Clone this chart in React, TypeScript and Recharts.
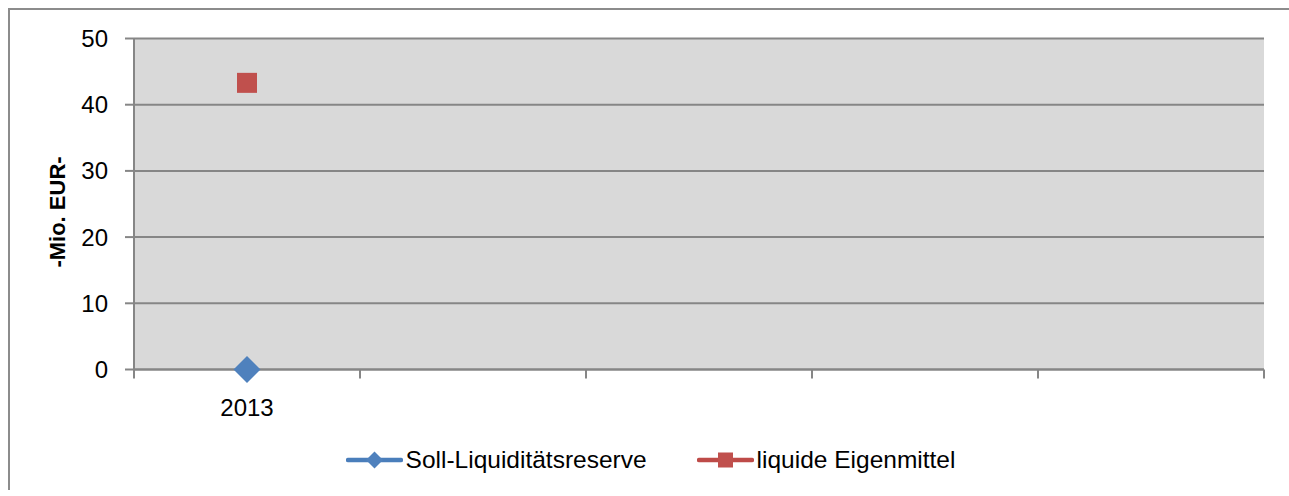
import { LineChart, Line, XAxis, YAxis, CartesianGrid, Legend } from 'recharts';

const categories = ['2013', '', '', '', ''];
const sollLiquiditaetsreserve: (number | null)[] = [0, null, null, null, null];
const liquideEigenmittel: (number | null)[] = [43.3, null, null, null, null];
const yTicks = [0, 10, 20, 30, 40, 50];
const xBoundaries = [0, 1, 2, 3, 4, 5];

const seriesNames = { soll: 'Soll-Liquiditätsreserve', liquide: 'liquide Eigenmittel' };

const data = categories.map((category, i) => ({
  x: i + 0.5,
  category,
  soll: sollLiquiditaetsreserve[i],
  liquide: liquideEigenmittel[i],
}));

const CHART_W = 1279;
const CHART_H = 478;
const Y_AXIS_W = 124;
const MARGIN = { top: 28.5, right: 25, bottom: 0, left: 0 };
const BAND = (CHART_W - Y_AXIS_W - MARGIN.right) / categories.length;

const FONT = '"Liberation Sans", Arial, sans-serif';
const AXIS_GRAY = '#868686';
const BLUE = '#4f81bd';
const BLUE_LINE = '#4a7ebb';
const RED = '#c0504d';
const RED_LINE = '#be4b48';

function Diamond({ cx, cy, r, fill }: { cx: number; cy: number; r: number; fill: string }) {
  return <polygon points={`${cx},${cy - r} ${cx + r},${cy} ${cx},${cy + r} ${cx - r},${cy}`} fill={fill} />;
}

const sollDot = (props: any) => {
  const { cx, cy, value } = props;
  if (value == null || cy == null) return <g key={props.index} />;
  return (
    <g key={props.index}>
      <Diamond cx={cx} cy={cy} r={13.5} fill={BLUE} />
    </g>
  );
};

const liquideDot = (props: any) => {
  const { cx, cy, value } = props;
  if (value == null || cy == null) return <g key={props.index} />;
  return <rect key={props.index} x={cx - 10} y={cy - 10} width={20} height={20} fill={RED} />;
};

const XTick = (props: any) => {
  const { x, y, payload } = props;
  const label = categories[payload.value];
  if (!label) return <g />;
  return (
    <text x={x + BAND / 2} y={y + 35} textAnchor="middle" fontSize={24} fontFamily={FONT} fill="#000">
      {label}
    </text>
  );
};

const YLabel = (props: any) => {
  const vb = props.viewBox || { x: 0, y: 0, height: 0 };
  const cx = 47;
  const cy = vb.y + vb.height / 2 + 8;
  return (
    <text
      x={cx}
      y={cy}
      transform={`rotate(-90 ${cx} ${cy})`}
      textAnchor="middle"
      dominantBaseline="central"
      fontSize={22}
      fontWeight="bold"
      fontFamily={FONT}
      fill="#000"
    >
      -Mio. EUR-
    </text>
  );
};

function LegendIcon({ color, line, marker }: { color: string; line: string; marker: 'diamond' | 'square' }) {
  return (
    <svg width={57} height={24} style={{ display: 'block' }}>
      <line x1={2} y1={12} x2={55} y2={12} stroke={line} strokeWidth={4.5} strokeLinecap="round" />
      {marker === 'diamond' ? (
        <Diamond cx={28.5} cy={12} r={8.5} fill={color} />
      ) : (
        <rect x={21} y={4.5} width={15} height={15} fill={color} />
      )}
    </svg>
  );
}

const LegendContent = () => (
  <div
    style={{
      height: 56,
      display: 'flex',
      alignItems: 'center',
      justifyContent: 'center',
      fontFamily: FONT,
      fontSize: 24.5,
      color: '#000',
      paddingLeft: 2,
    }}
  >
    <div style={{ display: 'flex', alignItems: 'center' }}>
      <LegendIcon color={BLUE} line={BLUE_LINE} marker="diamond" />
      <span style={{ marginLeft: 3 }}>{seriesNames.soll}</span>
    </div>
    <div style={{ display: 'flex', alignItems: 'center', marginLeft: 50 }}>
      <LegendIcon color={RED} line={RED_LINE} marker="square" />
      <span style={{ marginLeft: 3 }}>{seriesNames.liquide}</span>
    </div>
  </div>
);

export default function App() {
  return (
    <div
      style={{
        position: 'fixed',
        left: 8,
        top: 8,
        width: CHART_W + 2,
        height: CHART_H + 2,
        borderTop: '2px solid #8c8c8c',
        borderLeft: '2px solid #8c8c8c',
        background: '#fff',
      }}
    >
      <LineChart width={CHART_W} height={CHART_H} data={data} margin={MARGIN}>
        <CartesianGrid vertical={false} fill="#d9d9d9" stroke={AXIS_GRAY} strokeWidth={2} />
        <XAxis
          dataKey="x"
          type="number"
          domain={[0, 5]}
          ticks={xBoundaries}
          interval={0}
          tick={<XTick />}
          tickSize={9}
          tickLine={{ stroke: AXIS_GRAY, strokeWidth: 2 }}
          axisLine={{ stroke: AXIS_GRAY, strokeWidth: 2 }}
          height={62.5}
        />
        <YAxis
          width={Y_AXIS_W}
          domain={[0, 50]}
          ticks={yTicks}
          interval={0}
          tickSize={9}
          tickMargin={17}
          tick={{ fontSize: 24, fontFamily: FONT, fill: '#000' }}
          tickLine={{ stroke: AXIS_GRAY, strokeWidth: 2 }}
          axisLine={{ stroke: AXIS_GRAY, strokeWidth: 2 }}
          label={<YLabel />}
        />
        <Legend verticalAlign="bottom" content={<LegendContent />} wrapperStyle={{ left: 0, width: CHART_W }} />
        <Line
          dataKey="soll"
          name={seriesNames.soll}
          stroke={BLUE_LINE}
          strokeWidth={4.5}
          dot={sollDot}
          activeDot={false}
          isAnimationActive={false}
        />
        <Line
          dataKey="liquide"
          name={seriesNames.liquide}
          stroke={RED_LINE}
          strokeWidth={4.5}
          dot={liquideDot}
          activeDot={false}
          isAnimationActive={false}
        />
      </LineChart>
    </div>
  );
}
